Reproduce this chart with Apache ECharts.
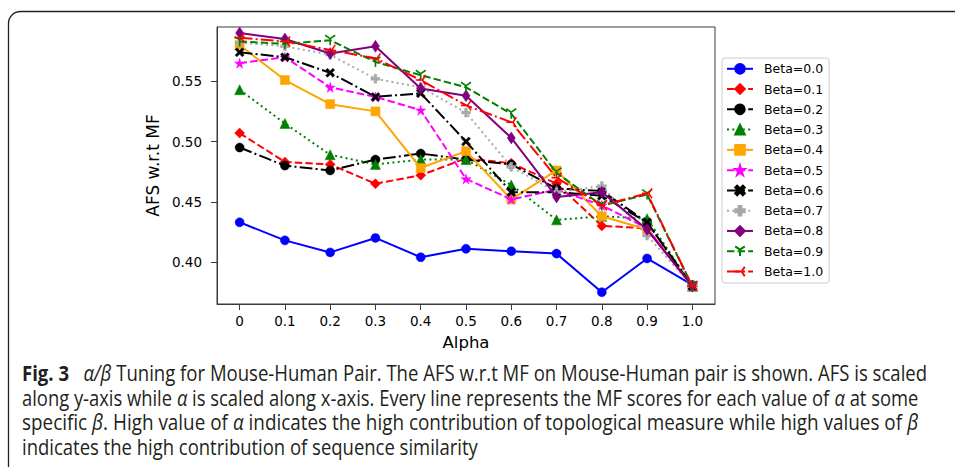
<!DOCTYPE html>
<html>
<head>
<meta charset="utf-8">
<script src="https://cdn.jsdelivr.net/npm/echarts@6/dist/echarts.min.js"></script>
<style>
html,body{margin:0;padding:0;background:#fff;}
#chart{width:955px;height:467px;}
</style>
</head>
<body>
<div id="chart"></div>
<script>
// ---- data ----
const alpha = [0, 0.1, 0.2, 0.3, 0.4, 0.5, 0.6, 0.7, 0.8, 0.9, 1.0];
const alphaLabels = ['0', '0.1', '0.2', '0.3', '0.4', '0.5', '0.6', '0.7', '0.8', '0.9', '1.0'];
const yTicks = [0.40, 0.45, 0.50, 0.55];
const betaNames = ['Beta=0.0', 'Beta=0.1', 'Beta=0.2', 'Beta=0.3', 'Beta=0.4', 'Beta=0.5', 'Beta=0.6', 'Beta=0.7', 'Beta=0.8', 'Beta=0.9', 'Beta=1.0'];
const beta00 = [0.433, 0.418, 0.408, 0.420, 0.404, 0.411, 0.409, 0.407, 0.375, 0.403, 0.381];
const beta01 = [0.507, 0.483, 0.481, 0.465, 0.472, 0.486, 0.482, 0.465, 0.430, 0.428, 0.380];
const beta02 = [0.495, 0.480, 0.476, 0.485, 0.490, 0.485, 0.481, 0.461, 0.459, 0.433, 0.380];
const beta03 = [0.543, 0.515, 0.489, 0.481, 0.485, 0.485, 0.464, 0.435, 0.438, 0.436, 0.380];
const beta04 = [0.580, 0.551, 0.531, 0.525, 0.478, 0.492, 0.452, 0.476, 0.438, 0.427, 0.380];
const beta05 = [0.565, 0.570, 0.545, 0.537, 0.526, 0.469, 0.452, 0.460, 0.447, 0.428, 0.380];
const beta06 = [0.574, 0.570, 0.557, 0.537, 0.540, 0.500, 0.458, 0.458, 0.455, 0.433, 0.380];
const beta07 = [0.582, 0.579, 0.572, 0.552, 0.545, 0.524, 0.479, 0.458, 0.463, 0.422, 0.380];
const beta08 = [0.590, 0.585, 0.573, 0.579, 0.544, 0.538, 0.503, 0.454, 0.458, 0.427, 0.380];
const beta09 = [0.583, 0.581, 0.584, 0.566, 0.555, 0.545, 0.523, 0.474, 0.447, 0.456, 0.380];
const beta10 = [0.586, 0.583, 0.576, 0.569, 0.551, 0.530, 0.516, 0.470, 0.447, 0.457, 0.380];
const captionLines = [
  ['Fig. 3', 'α/β', ' Tuning for Mouse-Human Pair. The AFS w.r.t MF on Mouse-Human pair is shown. AFS is scaled'],
  ['along y-axis while ', 'α', ' is scaled along x-axis. Every line represents the MF scores for each value of ', 'α', ' at some'],
  ['specific ', 'β', '. High value of ', 'α', ' indicates the high contribution of topological measure while high values of ', 'β'],
  ['indicates the high contribution of sequence similarity']
];

// ---- styling ----
const allData = [beta00, beta01, beta02, beta03, beta04, beta05, beta06, beta07, beta08, beta09, beta10];
const LW = 2;
const DASHED = [7.4, 3.2];
const DASHDOT = [12.8, 3.2, 2, 3.2];
const DOTTED = [2, 3.3];
const STAR = 'path://M50,0 L61,35 L98,35 L68,57 L79,91 L50,70 L21,91 L32,57 L2,35 L39,35 Z';
const XFILL = 'path://M0,20 L20,0 L50,30 L80,0 L100,20 L70,50 L100,80 L80,100 L50,70 L20,100 L0,80 L30,50 Z';
const PFILL = 'path://M35,0 L65,0 L65,35 L100,35 L100,65 L65,65 L65,100 L35,100 L35,65 L0,65 L0,35 L35,35 Z';
const TRI_DOWN = 'path://M50,50 L50,100 M50,50 L6.7,25 M50,50 L93.3,25';
const TRI_LEFT = 'path://M50,50 L0,50 M50,50 L75,6.7 M50,50 L75,93.3';
const styles = [
  {color: '#0000ff', type: 'solid', symbol: 'circle', size: 9},
  {color: '#ff0000', type: DASHED, symbol: 'diamond', size: 10},
  {color: '#000000', type: DASHDOT, symbol: 'circle', size: 9},
  {color: '#008000', type: DOTTED, symbol: 'triangle', size: 10},
  {color: '#ffa500', type: 'solid', symbol: 'rect', size: 9},
  {color: '#ff00ff', type: DASHED, symbol: STAR, size: 10},
  {color: '#000000', type: DASHDOT, symbol: XFILL, size: 9},
  {color: '#a9a9a9', type: DOTTED, symbol: PFILL, size: 9},
  {color: '#800080', type: 'solid', symbol: 'diamond', size: [8, 12]},
  {color: '#008000', type: DASHED, symbol: TRI_DOWN, size: 10, stroke: true},
  {color: '#ff0000', type: DASHDOT, symbol: TRI_LEFT, size: 10, stroke: true}
];

const series = allData.map((vals, i) => {
  const s = styles[i];
  return {
    name: betaNames[i],
    type: 'line',
    data: alpha.map((a, k) => [a, vals[k]]),
    symbol: s.symbol,
    symbolSize: s.size,
    showAllSymbol: true,
    lineStyle: {color: s.color, width: LW, type: s.type},
    itemStyle: s.stroke ? {color: s.color, borderColor: s.color, borderWidth: 1.6} : {color: s.color, borderColor: s.color, borderWidth: 0.5},
    emphasis: {disabled: true},
    animation: false,
    z: 2 + i * 0.01
  };
});

// caption measurement for horizontal fit
const capFont = '"Liberation Sans Narrow", "Open Sans", sans-serif';
const capSize = 21;
const cnv = document.createElement('canvas');
const ctx = cnv.getContext('2d');
function measure(str, weight, style) {
  ctx.font = (style || 'normal') + ' ' + (weight || 'normal') + ' ' + capSize + 'px ' + capFont;
  return ctx.measureText(str).width;
}
const capTargets = [906, 896, 896, 456];
const capY = [373, 398, 422, 447];
const greek = new Set(['α', 'β', 'α/β']);
const graphics = [{
  type: 'rect',
  shape: {x: 8.5, y: 11.5, width: 1000, height: 520, r: 12},
  style: {fill: 'none', stroke: '#222', lineWidth: 1.3},
  silent: true, z: 0
}];
captionLines.forEach((segs, li) => {
  let text = '';
  let w = 0;
  segs.forEach((seg, si) => {
    if (li === 0 && si === 0) {
      text += '{b|' + seg + '}';
      w += measure(seg, 'bold');
      text += '{n|   }';
      w += measure('   ');
    } else if (greek.has(seg)) {
      text += '{i|' + seg + '}';
      w += measure(seg, 'normal', 'italic');
    } else {
      text += '{n|' + seg + '}';
      w += measure(seg);
    }
  });
  const sx = capTargets[li] / w;
  graphics.push({
    type: 'text',
    x: 22, y: capY[li],
    scaleX: sx,
    silent: true,
    z: 5,
    style: {
      text: text,
      verticalAlign: 'middle',
      align: 'left',
      fill: '#231f20',
      font: capSize + 'px ' + capFont,
      rich: {
        b: {fontWeight: 'bold', fontSize: capSize, fontFamily: capFont, fill: '#231f20', color: '#231f20'},
        i: {fontStyle: 'italic', fontSize: capSize, fontFamily: capFont, fill: '#231f20', color: '#231f20'},
        n: {fontSize: capSize, fontFamily: capFont, fill: '#231f20', color: '#231f20'}
      }
    }
  });
});

const axisFont = 'DejaVu Sans';
const chart = echarts.init(document.getElementById('chart'), null, {renderer: 'svg', width: 955, height: 467});
chart.setOption({
  animation: false,
  backgroundColor: '#ffffff',
  grid: {left: 217, top: 27, right: 240, bottom: 163, show: true, borderColor: '#3a3a3a', borderWidth: 1, backgroundColor: 'transparent'},
  xAxis: {
    type: 'value', min: -0.05, max: 1.05,
    name: 'Alpha', nameLocation: 'middle', nameGap: 30,
    nameTextStyle: {fontFamily: axisFont, fontSize: 16.5, color: '#000'},
    axisLine: {show: true, onZero: false, lineStyle: {color: '#3a3a3a', width: 1}},
    axisTick: {show: true, length: 6, lineStyle: {color: '#3a3a3a'}, customValues: alpha},
    axisLabel: {
      fontFamily: axisFont, fontSize: 13.5, color: '#000', margin: 10,
      customValues: alpha,
      formatter: (v) => { const k = alpha.findIndex(a => Math.abs(a - v) < 1e-6); return k >= 0 ? alphaLabels[k] : ''; }
    },
    splitLine: {show: false}
  },
  yAxis: {
    type: 'value', min: 0.3652, max: 0.595,
    name: 'AFS w.r.t MF', nameLocation: 'middle', nameGap: 53, nameRotate: 90,
    nameTextStyle: {fontFamily: axisFont, fontSize: 17, color: '#000'},
    axisLine: {show: true, onZero: false, lineStyle: {color: '#3a3a3a', width: 1}},
    axisTick: {show: true, length: 6, lineStyle: {color: '#3a3a3a'}, customValues: yTicks},
    axisLabel: {
      fontFamily: axisFont, fontSize: 13.5, color: '#000', margin: 15,
      customValues: yTicks,
      formatter: (v) => v.toFixed(2)
    },
    splitLine: {show: false}
  },
  legend: {
    orient: 'vertical', left: 722, top: 58,
    data: betaNames,
    itemWidth: 26, itemHeight: 12, itemGap: 7.27,
    padding: [4.3, 6, 5, 4],
    backgroundColor: '#fff', borderColor: '#cccccc', borderWidth: 1, borderRadius: 3,
    textStyle: {fontFamily: axisFont, fontSize: 12.5, color: '#000', padding: [0, 0, 0, 6]},
    selectedMode: false
  },
  graphic: graphics,
  series: series
});
</script>
</body>
</html>
